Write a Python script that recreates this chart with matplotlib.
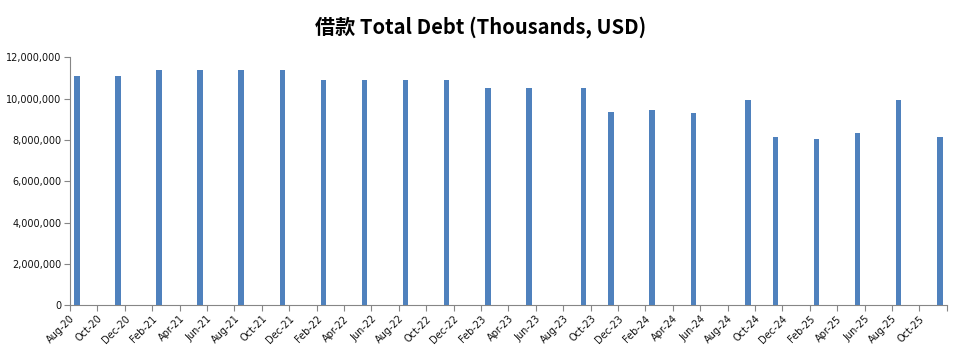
import matplotlib
matplotlib.use("Agg")
import matplotlib.pyplot as plt
from matplotlib.ticker import FuncFormatter, FixedLocator

# ---- data ----
dates = ["2020-08", "2020-11", "2021-02", "2021-05", "2021-08", "2021-11",
         "2022-02", "2022-05", "2022-08", "2022-11", "2023-02", "2023-05",
         "2023-09", "2023-11", "2024-02", "2024-05", "2024-09", "2024-11",
         "2025-02", "2025-05", "2025-08", "2025-11"]
debt = [11100000, 11100000, 11390000, 11390000, 11390000, 11390000,
        10900000, 10900000, 10900000, 10900000, 10520000, 10520000,
        10520000, 9350000, 9450000, 9300000, 9930000, 8140000,
        8050000, 8340000, 9930000, 8140000]
month_names = ["Jan", "Feb", "Mar", "Apr", "May", "Jun",
               "Jul", "Aug", "Sep", "Oct", "Nov", "Dec"]
start_year, start_month = 2020, 8
end_year, end_month = 2025, 12
title = "借款 Total Debt (Thousands, USD)"

def month_index(s):
    y, m = s.split("-")
    return (int(y) - start_year) * 12 + (int(m) - start_month)

x = [month_index(d) + 0.5 for d in dates]
n_months = (end_year - start_year) * 12 + (end_month - start_month)

fig = plt.figure(figsize=(9.61, 3.53), dpi=100)
ax = fig.add_axes([70 / 961, 1 - 305.3 / 353, (946.7 - 70) / 961, (305.3 - 57.3) / 353])

ax.bar(x, debt, width=0.4, color="#4F81BD", zorder=3)

ax.set_xlim(0, n_months)
ax.set_ylim(0, 12000000)

tick_pos = list(range(0, n_months + 1, 2))
labels = []
for t in tick_pos:
    mm = start_month - 1 + t
    yy = start_year + mm // 12
    mo = mm % 12
    lab = f"{month_names[mo]}-{yy % 100:02d}"
    labels.append(lab if t < n_months else "")
ax.xaxis.set_major_locator(FixedLocator(tick_pos))
ax.set_xticklabels(labels, rotation=45, ha="right", rotation_mode="anchor",
                   fontsize=7, color="#111111")
ax.yaxis.set_major_locator(FixedLocator(list(range(0, 12000001, 2000000))))
ax.yaxis.set_major_formatter(FuncFormatter(lambda v, p: f"{int(v):,}"))
for lab in ax.get_yticklabels():
    lab.set_fontsize(7)
    lab.set_color("#111111")

for side in ["top", "right"]:
    ax.spines[side].set_visible(False)
for side in ["left", "bottom"]:
    ax.spines[side].set_color("#868686")
    ax.spines[side].set_linewidth(0.8)
ax.tick_params(axis="both", direction="out", length=4, width=0.8, color="#868686")
ax.tick_params(axis="x", pad=2)
ax.tick_params(axis="y", pad=2)

fig.text(0.5, 1 - 27 / 353, title, ha="center", va="center",
         fontsize=14.5, fontweight="bold",
         family=["Noto Sans CJK SC", "DejaVu Sans"])

fig.savefig("out.png", dpi=100)
